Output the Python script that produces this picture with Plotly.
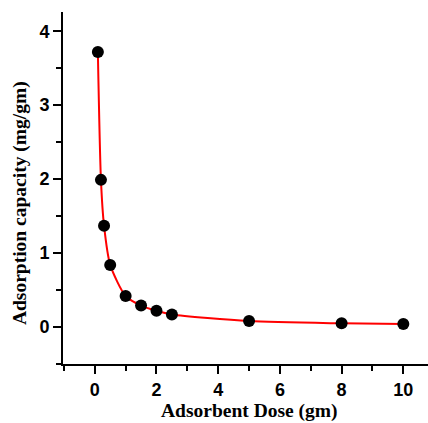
import plotly.graph_objects as go

# Adsorbent dose (gm) and measured adsorption capacity (mg/gm)
dose = [0.1, 0.2, 0.3, 0.5, 1.0, 1.5, 2.0, 2.5, 5.0, 8.0, 10.0]
capacity = [3.72, 1.99, 1.37, 0.84, 0.42, 0.29, 0.22, 0.17, 0.08, 0.05, 0.04]

x_ticks = [0, 2, 4, 6, 8, 10]
y_ticks = [0, 1, 2, 3, 4]

W, H = 428, 423
tick_font = dict(family="Liberation Sans, Arial, sans-serif", size=18, color="black", weight="bold")
title_font = dict(family="Liberation Serif, Times New Roman, serif", size=19.5, color="black")

fig = go.Figure()

# smooth fitted curve through the measurements
fig.add_trace(go.Scatter(
    x=dose, y=capacity, mode="lines",
    line=dict(color="#ff0000", width=2, shape="spline", smoothing=0.7),
    hoverinfo="skip", showlegend=False,
))

# measured points
fig.add_trace(go.Scatter(
    x=dose, y=capacity, mode="markers",
    marker=dict(color="black", size=12),
    showlegend=False,
))

axis_common = dict(
    showgrid=False, zeroline=False, showline=True, linecolor="black", linewidth=2,
    ticks="outside", ticklen=8, tickwidth=2, tickcolor="black",
    tickfont=tick_font,
)

fig.update_xaxes(
    range=[-1.03, 10.8], tickvals=x_ticks, ticktext=[str(v) for v in x_ticks],
    minor=dict(dtick=1, tick0=0, ticks="outside", ticklen=5, tickwidth=2, tickcolor="black"),
    **axis_common,
)
fig.update_yaxes(
    range=[-0.5, 4.26], tickvals=y_ticks, ticktext=[str(v) for v in y_ticks],
    minor=dict(dtick=0.5, tick0=0, ticks="outside", ticklen=5, tickwidth=2, tickcolor="black"),
    **axis_common,
)

fig.add_annotation(
    text="<b>Adsorbent Dose (gm)</b>", xref="paper", yref="paper",
    x=0.51, y=-0.134, xanchor="center", yanchor="middle",
    showarrow=False, font=title_font,
)
fig.add_annotation(
    text="<b>Adsorption capacity (mg/gm)</b>", xref="paper", yref="paper",
    x=-0.118, y=0.457, xanchor="center", yanchor="middle", textangle=-90,
    showarrow=False, font=title_font,
)

fig.update_layout(
    width=W, height=H,
    margin=dict(l=63, r=0, t=12, b=59),
    paper_bgcolor="white", plot_bgcolor="white",
    font=dict(family="Liberation Sans, Arial, sans-serif", color="black"),
)

fig.write_html("out.html")
